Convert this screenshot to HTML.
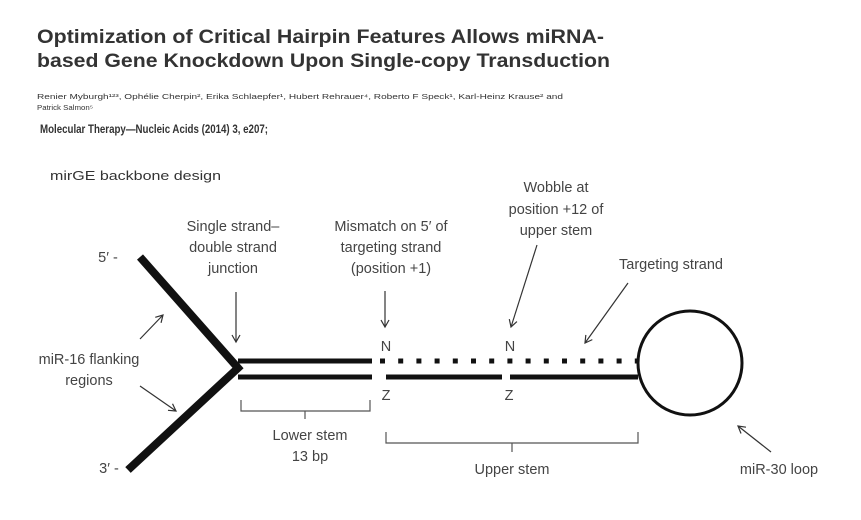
<!DOCTYPE html>
<html><head><meta charset="utf-8"><style>
html,body{margin:0;padding:0;background:#fff;width:861px;height:520px;overflow:hidden}
svg{display:block}
.t{font-family:"Liberation Sans",sans-serif;fill:#333}
.d{font-family:"Liberation Sans",sans-serif;fill:#444;font-size:14.5px}
</style></head><body>
<svg width="861" height="520" viewBox="0 0 861 520" xmlns="http://www.w3.org/2000/svg">
<defs><marker id="a" markerWidth="10" markerHeight="10" refX="8" refY="5" orient="auto" markerUnits="userSpaceOnUse"><path d="M1,1 L8,5 L1,9" fill="none" stroke="#333" stroke-width="1.2"/></marker></defs>
<text class="t" x="37" y="43" font-size="19.5" font-weight="bold" fill="#222" textLength="567" lengthAdjust="spacingAndGlyphs">Optimization of Critical Hairpin Features Allows miRNA-</text>
<text class="t" x="37" y="67" font-size="19.5" font-weight="bold" fill="#222" textLength="573" lengthAdjust="spacingAndGlyphs">based Gene Knockdown Upon Single-copy Transduction</text>
<text class="t" x="37" y="99" font-size="7.5" textLength="526" lengthAdjust="spacingAndGlyphs">Renier Myburgh¹²³, Ophélie Cherpin², Erika Schlaepfer¹, Hubert Rehrauer⁴, Roberto F Speck¹, Karl-Heinz Krause² and</text>
<text class="t" x="37" y="110" font-size="7.5" textLength="56" lengthAdjust="spacingAndGlyphs">Patrick Salmon⁵</text>
<text class="t" x="40" y="133" font-size="12" font-weight="bold" fill="#222" textLength="228" lengthAdjust="spacingAndGlyphs">Molecular Therapy—Nucleic Acids (2014) 3, e207;</text>
<text class="t" x="50" y="180" font-size="13" textLength="171" lengthAdjust="spacingAndGlyphs">mirGE backbone design</text>

<g class="d" text-anchor="middle">
<text x="233" y="231">Single strand–</text>
<text x="233" y="252">double strand</text>
<text x="233" y="273">junction</text>
<text x="391" y="231">Mismatch on 5′ of</text>
<text x="391" y="252">targeting strand</text>
<text x="391" y="273">(position +1)</text>
<text x="556" y="192">Wobble at</text>
<text x="556" y="214">position +12 of</text>
<text x="556" y="235">upper stem</text>
<text x="671" y="269">Targeting strand</text>
<text x="89" y="364">miR-16 flanking</text>
<text x="89" y="385">regions</text>
<text x="310" y="440">Lower stem</text>
<text x="310" y="461">13 bp</text>
<text x="512" y="474">Upper stem</text>
<text x="779" y="474">miR-30 loop</text>
<text x="386" y="351">N</text>
<text x="510" y="351">N</text>
<text x="386" y="400">Z</text>
<text x="509" y="400">Z</text>
<text x="108" y="262">5′ -</text>
<text x="109" y="473">3′ -</text>
</g>

<!-- arms -->
<polyline points="140,257 238,368 128,470" fill="none" stroke="#111" stroke-width="8" stroke-linejoin="miter"/>
<!-- stems -->
<line x1="238" y1="361" x2="372" y2="361" stroke="#111" stroke-width="5"/>
<line x1="238" y1="377" x2="372" y2="377" stroke="#111" stroke-width="5"/>
<line x1="386" y1="377" x2="502" y2="377" stroke="#111" stroke-width="5"/>
<line x1="510" y1="377" x2="638" y2="377" stroke="#111" stroke-width="5"/>
<line x1="380" y1="361" x2="638" y2="361" stroke="#111" stroke-width="5" stroke-dasharray="5,13.2"/>
<circle cx="690" cy="363" r="52" fill="none" stroke="#111" stroke-width="3"/>

<!-- brackets -->
<g fill="none" stroke="#555" stroke-width="1.2">
<path d="M241,400 V411 H370 V400 M305,411 V419"/>
<path d="M386,432 V443 H638 V432 M512,443 V452"/>
</g>
<!-- arrows -->
<g stroke="#333" stroke-width="1.2" fill="none" marker-end="url(#a)">
<line x1="236" y1="292" x2="236" y2="342"/>
<line x1="385" y1="291" x2="385" y2="327"/>
<line x1="537" y1="245" x2="511" y2="327"/>
<line x1="628" y1="283" x2="585" y2="343"/>
<line x1="140" y1="339" x2="163" y2="315"/>
<line x1="140" y1="386" x2="176" y2="411"/>
<line x1="771" y1="452" x2="738" y2="426"/>
</g>
</svg>
</body></html>
